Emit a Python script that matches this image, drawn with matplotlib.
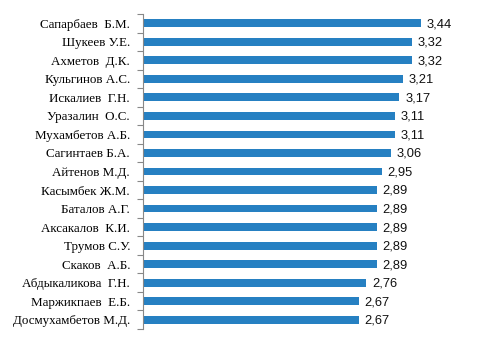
import matplotlib.pyplot as plt
import numpy as np

# names top to bottom
names = ["Сапарбаев  Б.М.", "Шукеев У.Е.", "Ахметов  Д.К.", "Кульгинов А.С.",
         "Искалиев  Г.Н.", "Уразалин  О.С.", "Мухамбетов А.Б.", "Сагинтаев Б.А.",
         "Айтенов М.Д.", "Касымбек Ж.М.", "Баталов А.Г.", "Аксакалов  К.И.",
         "Трумов С.У.", "Скаков  А.Б.", "Абдыкаликова  Г.Н.", "Маржикпаев  Е.Б.",
         "Досмухамбетов М.Д."]
values = [3.44, 3.32, 3.32, 3.21, 3.17, 3.11, 3.11, 3.06, 2.95, 2.89,
          2.89, 2.89, 2.89, 2.89, 2.76, 2.67, 2.67]

BAR_COLOR = '#2680C2'

fig = plt.figure(figsize=(4.8, 3.45), dpi=100)
ax = fig.add_axes([142.5 / 480, 1 - 329 / 345, (470 - 142.5) / 480, (329 - 14) / 345])

y = np.arange(len(names))
ax.barh(y, values, height=0.42, color=BAR_COLOR, edgecolor='none')
ax.set_ylim(len(names) - 0.5, -0.5)
ax.set_xlim(0, 4.04)

# value labels
for yi, v in zip(y, values):
    ax.text(v + 0.07, yi + 0.05, "{:.2f}".format(v).replace('.', ','), va='center', ha='left',
            fontsize=9.3, family='Liberation Sans', color='#111111')

# category labels, boundary ticks
ax.set_yticks(y)
ax.set_yticklabels(names, fontsize=9.4, family='Liberation Serif', color='#000000')
ax.tick_params(axis='y', which='major', length=0, pad=9)
ax.set_yticks(np.arange(-0.5, len(names) + 0.5, 1), minor=True)
ax.tick_params(axis='y', which='minor', length=4, color='#888888', width=0.8)

ax.set_xticks([])
for s in ['top', 'right', 'bottom']:
    ax.spines[s].set_visible(False)
ax.spines['left'].set_color('#888888')
ax.spines['left'].set_linewidth(0.8)

plt.savefig('out.png', dpi=100)
